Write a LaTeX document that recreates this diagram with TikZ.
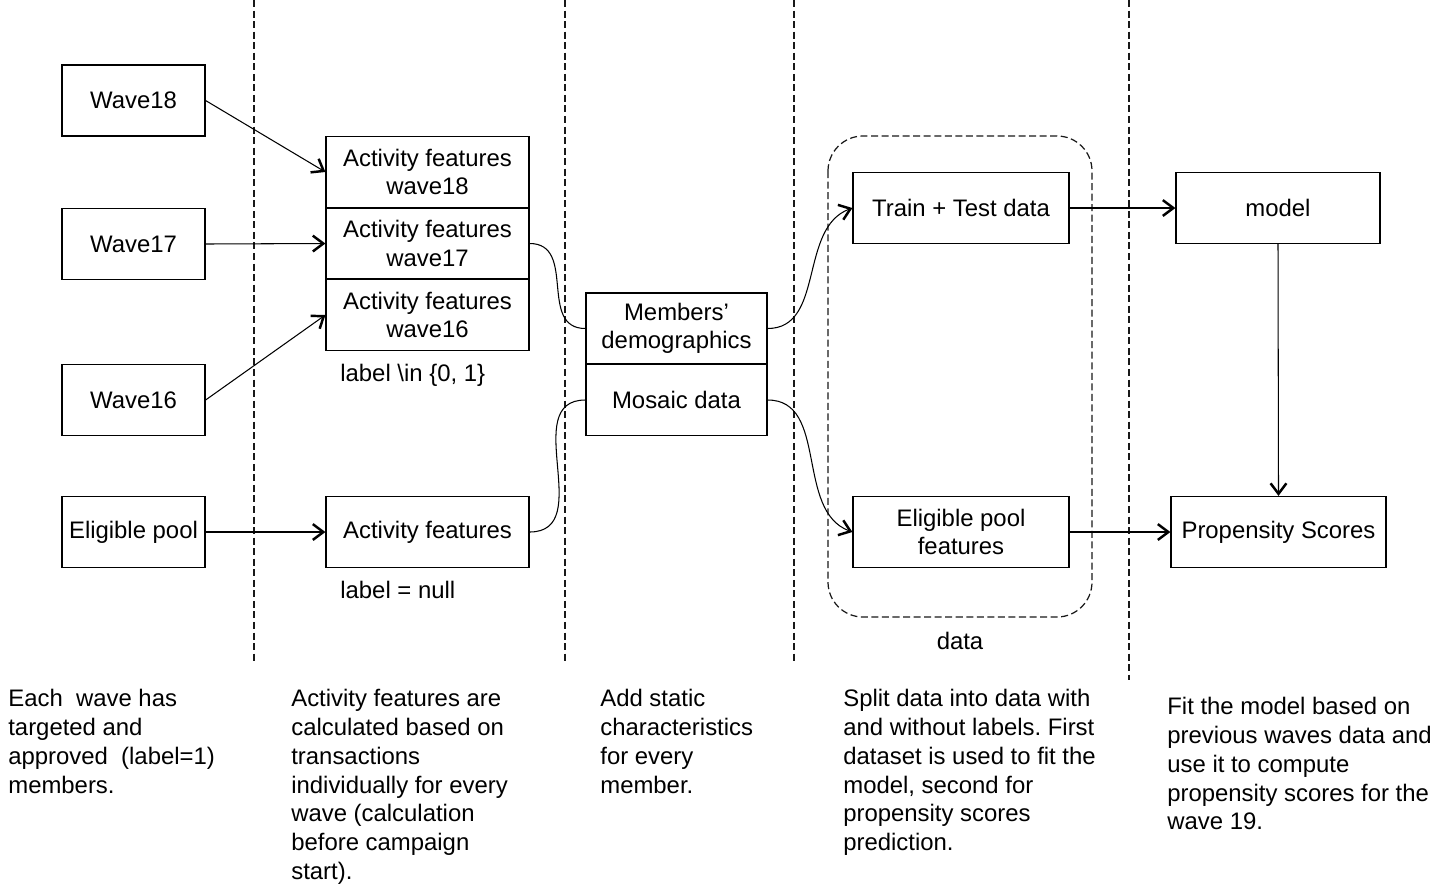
\documentclass[tikz,border=0pt]{standalone}
\usepackage{fontspec}
\setmainfont{Liberation Sans}
\usetikzlibrary{arrows.meta}
\frenchspacing

\begin{document}
\begin{tikzpicture}[x=0.02cm, y=-0.02cm, every node/.style={font=\fontsize{13.6}{16.2}\selectfont}, box/.style={draw, line width=0.7pt, minimum height=1.42cm, align=center, inner sep=1pt}, note/.style={anchor=north west, align=left, inner sep=0pt, font=\fontsize{13.6}{16.4}\selectfont}, sep/.style={dash pattern=on 4pt off 2pt, line width=0.7pt, black!90}, link/.style={line width=0.6pt, -{Straight Barb[length=6pt, width=9pt, line width=1.4pt]}}]
		\useasboundingbox (0,0) rectangle (1437,890);
		\foreach \x/\h in {254/662, 565/662, 794/662, 1129/680}
			\draw[sep] (\x,0) -- (\x,\h);
		\draw[sep, rounded corners=0.7cm] (828,136) rectangle (1092,617);
		\node[box, minimum width=2.86cm] (w18) at (133.5,100.5) {Wave18};
		\node[box, minimum width=2.86cm] (w17) at (133.5,244) {Wave17};
		\node[box, minimum width=2.86cm] (w16) at (133.5,400) {Wave16};
		\node[box, minimum width=2.86cm] (pool) at (133.5,532) {Eligible pool};
		\node[box, minimum width=4.06cm] (af18) at (427.5,172) {Activity features\\wave18};
		\node[box, minimum width=4.06cm] (af17) at (427.5,243.5) {Activity features\\wave17};
		\node[box, minimum width=4.06cm] (af16) at (427.5,315) {Activity features\\wave16};
		\node[box, minimum width=4.06cm] (afp) at (427.5,532) {Activity features};
		\node[anchor=west, inner sep=0pt] (lab1) at (340,375) {label \textbackslash in \{0, 1\}};
		\node[anchor=west, inner sep=0pt] (lab0) at (340,590) {label = null};
		\node[box, minimum width=3.62cm] (dem) at (676.5,328.5) {Members'\\demographics};
		\node[box, minimum width=3.62cm] (mos) at (676.5,400) {Mosaic data};
		\node[box, minimum width=4.32cm] (tt) at (961,208) {Train + Test data};
		\node[box, minimum width=4.32cm] (epf) at (961,532) {Eligible pool\\features};
		\node (datalbl) at (960,641) {data};
		\node[box, minimum width=4.08cm] (model) at (1278,208) {model};
		\node[box, minimum width=4.3cm] (ps) at (1278.5,532) {Propensity Scores};
		\draw[link] (w18.east) -- (af18.west);
		\draw[link] (w17.east) -- (af17.west);
		\draw[link] (w16.east) -- (af16.west);
		\draw[link] (pool.east) -- (afp.west);
		\draw[line width=0.6pt] (af17.east) to[out=0, in=180, looseness=1.2] (dem.west);
		\draw[line width=0.6pt] (afp.east) to[out=0, in=180, looseness=1.2] (mos.west);
		\draw[link] (dem.east) to[out=0, in=200] (tt.west);
		\draw[link] (mos.east) to[out=0, in=160] (epf.west);
		\draw[link] (tt.east) -- (model.west);
		\draw[link] (epf.east) -- (ps.west);
		\draw[link] (model.south) -- (ps.north);
		% notes under the columns
		\node[note] (n1) at (8,689) {Each\ \ wave has\\targeted and\\approved\ \ (label=1)\\members.};
		\node[note] (n2) at (291,689) {Activity features are\\calculated based on\\transactions\\individually for every\\wave (calculation\\before campaign\\start).};
		\node[note] (n3) at (600,689) {Add static\\characteristics\\for every\\member.};
		\node[note] (n4) at (843,689) {Split data into data with\\and without labels. First\\dataset is used to fit the\\model, second for\\propensity scores\\prediction.};
		\node[note] (n5) at (1167,697) {Fit the model based on\\previous waves data and\\use it to compute\\propensity scores for the\\wave 19.};
	\end{tikzpicture}
\end{document}
